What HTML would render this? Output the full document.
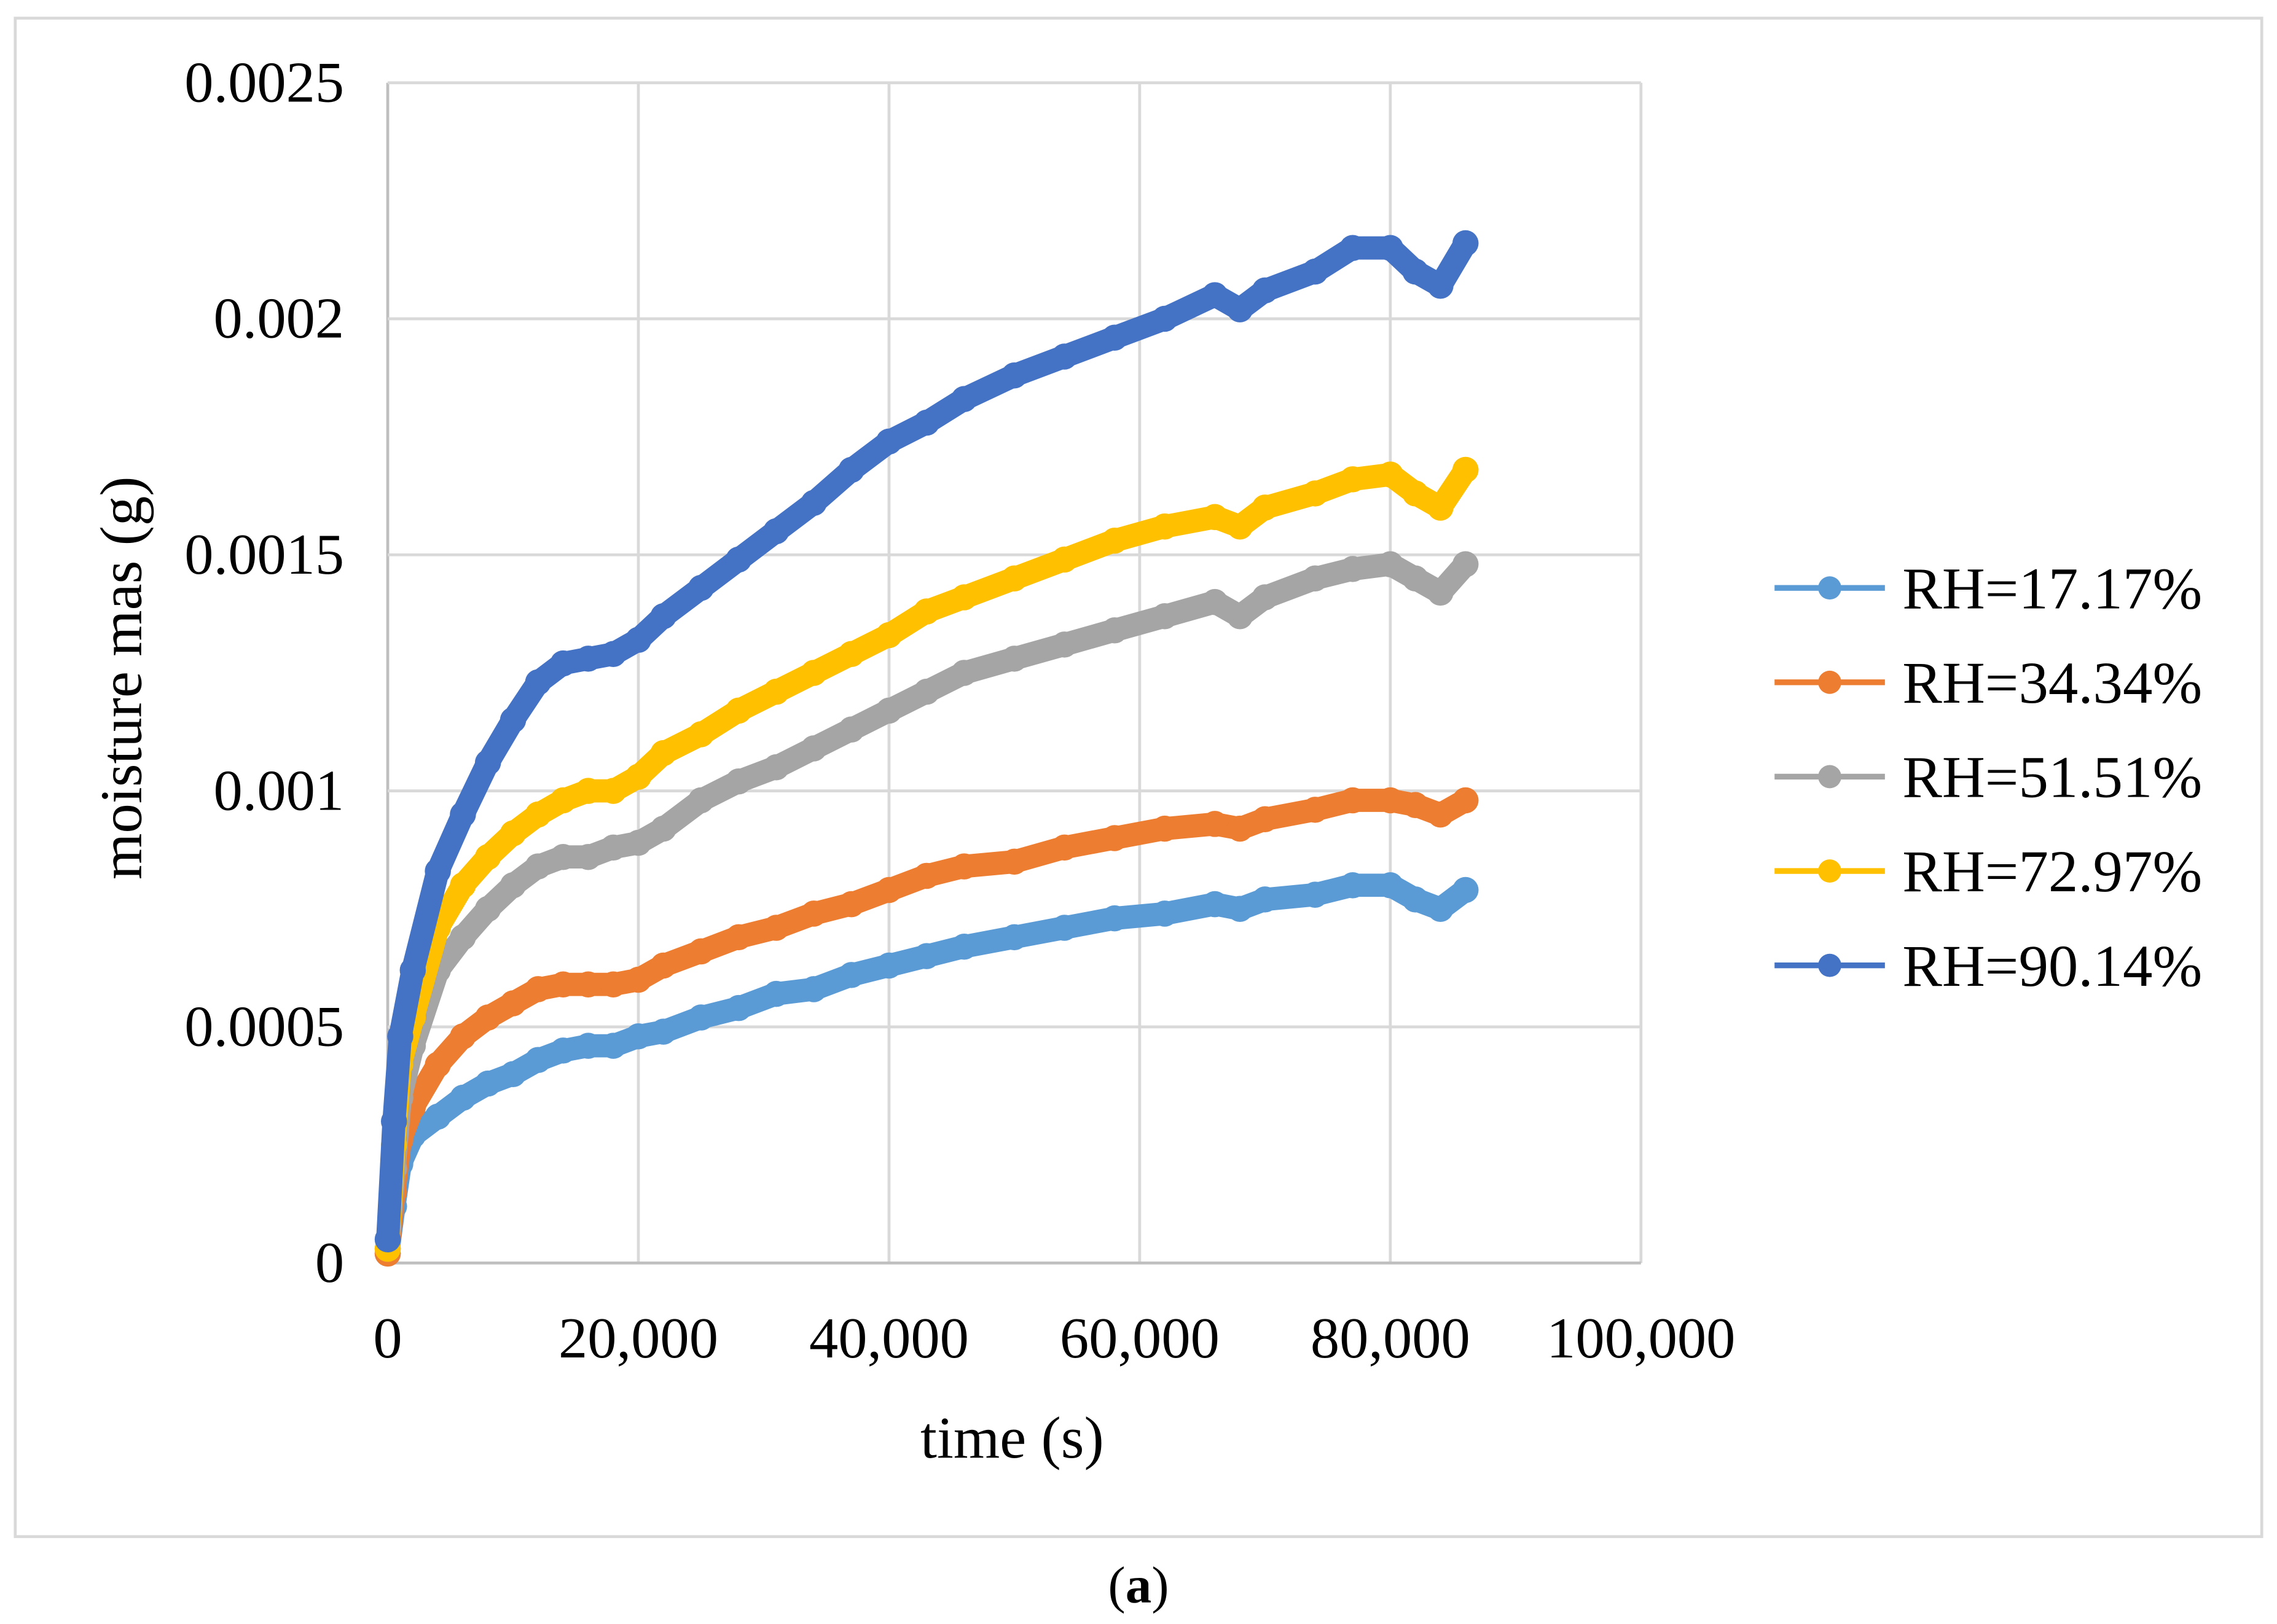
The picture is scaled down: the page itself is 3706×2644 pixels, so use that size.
<!DOCTYPE html>
<html><head><meta charset="utf-8"><style>
html,body{margin:0;padding:0;background:#fff}
svg{display:block}
text{font-family:"Liberation Serif",serif;fill:#000}
</style></head><body>
<svg id="chart" width="3706" height="2644" viewBox="0 0 1568 1118.7" preserveAspectRatio="none" xmlns="http://www.w3.org/2000/svg">
<rect x="10.5" y="12.5" width="1547" height="1046" fill="#fff" stroke="#d9d9d9" stroke-width="2"/>
<g id="grid"></g>
<g id="series"></g>
<g id="ticks"></g>
<text transform="translate(97,467) rotate(-90)" text-anchor="middle" font-size="41">moisture mas (g)</text>
<text x="697" y="1004" text-anchor="middle" font-size="41">time (s)</text>
<g id="legend"></g>
<text x="784" y="1104" text-anchor="middle" font-size="36">(<tspan font-weight="bold">a</tspan>)</text>
</svg>
<script>
const times=[0,500,1000,2000,4000,6000,8000,10000,12000,14000,16000,18000,20000,22000,25000,28000,31000,34000,37000,40000,43000,46000,50000,54000,58000,62000,66000,68000,70000,74000,77000,80000,82000,84000,86000];
const rh17=[0.00002,0.00012,0.00021,0.00027,0.00031,0.00035,0.00038,0.0004,0.00043,0.00045,0.00046,0.00046,0.00048,0.00049,0.00052,0.00054,0.00057,0.00058,0.00061,0.00063,0.00065,0.00067,0.00069,0.00071,0.00073,0.00074,0.00076,0.00075,0.00077,0.00078,0.0008,0.0008,0.00077,0.00075,0.00079];
const rh34=[0.00002,0.00015,0.00026,0.00033,0.00042,0.00048,0.00052,0.00055,0.00058,0.00059,0.00059,0.00059,0.0006,0.00063,0.00066,0.00069,0.00071,0.00074,0.00076,0.00079,0.00082,0.00084,0.00085,0.00088,0.0009,0.00092,0.00093,0.00092,0.00094,0.00096,0.00098,0.00098,0.00097,0.00095,0.00098];
const rh51=[0.00003,0.0002,0.00035,0.00046,0.00062,0.00069,0.00075,0.0008,0.00084,0.00086,0.00086,0.00088,0.00089,0.00092,0.00098,0.00102,0.00105,0.00109,0.00113,0.00117,0.00121,0.00125,0.00128,0.00131,0.00134,0.00137,0.0014,0.00137,0.00141,0.00145,0.00147,0.00148,0.00145,0.00142,0.00148];
const rh72=[0.00003,0.00025,0.00042,0.00052,0.00071,0.0008,0.00086,0.00091,0.00095,0.00098,0.001,0.001,0.00103,0.00108,0.00112,0.00117,0.00121,0.00125,0.00129,0.00133,0.00138,0.00141,0.00145,0.00149,0.00153,0.00156,0.00158,0.00156,0.0016,0.00163,0.00166,0.00167,0.00163,0.0016,0.00168];
const rh90=[0.00005,0.0003,0.00048,0.00062,0.00083,0.00095,0.00106,0.00115,0.00123,0.00127,0.00128,0.00129,0.00132,0.00137,0.00143,0.00149,0.00155,0.00161,0.00168,0.00174,0.00178,0.00183,0.00188,0.00192,0.00196,0.002,0.00205,0.00202,0.00206,0.0021,0.00215,0.00215,0.0021,0.00207,0.00216];
const seriesNames=["RH=17.17%","RH=34.34%","RH=51.51%","RH=72.97%","RH=90.14%"];
const seriesColors=["#5B9BD5","#ED7D31","#A5A5A5","#FFC000","#4472C4"];
const xTicks=[0,20000,40000,60000,80000,100000];
const xTickLabels=["0","20,000","40,000","60,000","80,000","100,000"];
const yTicks=[0,0.0005,0.001,0.0015,0.002,0.0025];
const yTickLabels=["0","0.0005","0.001","0.0015","0.002","0.0025"];

const NS="http://www.w3.org/2000/svg";
const X0=267,X1=1130,Y0=870,Y1=57;
const xs=v=>X0+(v/100000)*(X1-X0);
const ys=v=>Y0-(v/0.0025)*(Y0-Y1);
function mk(tag,attrs,parent){const e=document.createElementNS(NS,tag);for(const k in attrs)e.setAttribute(k,attrs[k]);parent.appendChild(e);return e;}
const grid=document.getElementById('grid'),ticks=document.getElementById('ticks');
xTicks.forEach((t,i)=>{
  const l=mk('line',{x1:xs(t),x2:xs(t),y1:Y1,y2:Y0,stroke:i===0?'#bfbfbf':'#d9d9d9','stroke-width':2},grid);
  
  
  const tx=mk('text',{x:xs(t),y:935,'text-anchor':'middle','font-size':40},ticks);
  tx.textContent=xTickLabels[i];
  
  
});
yTicks.forEach((t,i)=>{
  const l=mk('line',{x1:X0,x2:X1,y1:ys(t),y2:ys(t),stroke:i===0?'#bfbfbf':'#d9d9d9','stroke-width':2},grid);
  
  
  const tx=mk('text',{x:237,y:ys(t)+13,'text-anchor':'end','font-size':40},ticks);
  tx.textContent=yTickLabels[i];
  
  
});
const all=[rh17,rh34,rh51,rh72,rh90];
const sg=document.getElementById('series');
all.forEach((vals,si)=>{
  const g=mk('g',{},sg);
  
  
  const d=vals.map((v,i)=>(i?'L':'M')+xs(times[i]).toFixed(1)+' '+ys(v).toFixed(1)).join(' ');
  const p=mk('path',{d:d,fill:'none',stroke:seriesColors[si],'stroke-width':16,'stroke-linejoin':'round','stroke-linecap':'round'},g);
  
  
  vals.forEach((v,i)=>{
    const c=mk('circle',{cx:xs(times[i]),cy:ys(v),r:9,fill:seriesColors[si]},g);
    
    
  });
});
const lg=document.getElementById('legend');
seriesNames.forEach((n,i)=>{
  const y=405+i*65;
  const g=mk('g',{},lg);
  
  
  mk('line',{x1:1222,x2:1298,y1:y,y2:y,stroke:seriesColors[i],'stroke-width':4},g);
  mk('circle',{cx:1260,cy:y,r:8,fill:seriesColors[i]},g);
  const t=mk('text',{x:1310,y:y+14,'font-size':41},g);
  t.textContent=n;
});
</script>
</body></html>
